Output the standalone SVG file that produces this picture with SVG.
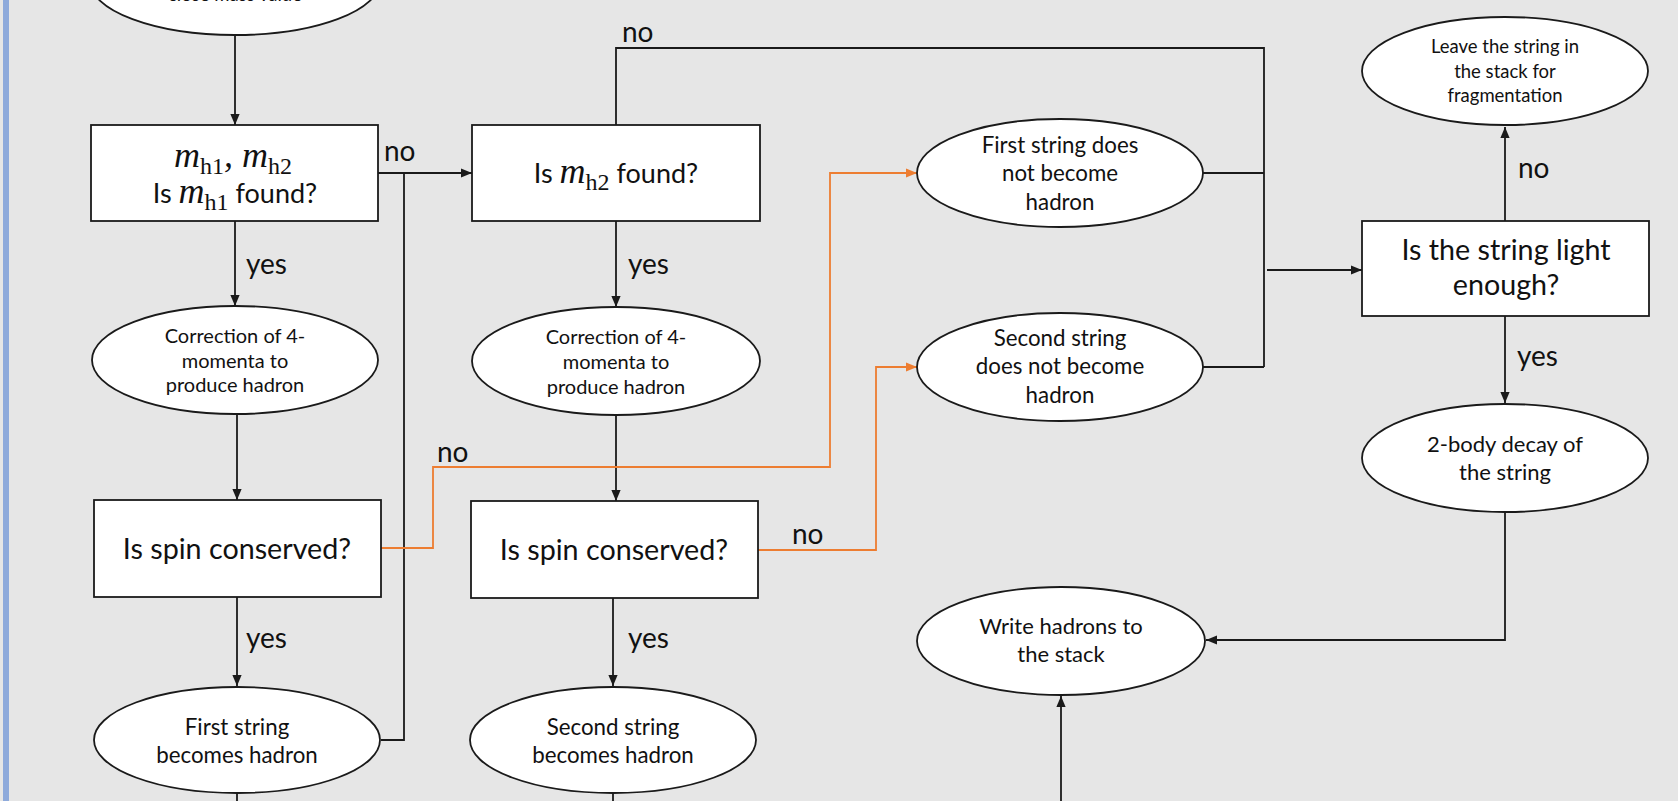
<svg xmlns="http://www.w3.org/2000/svg" width="1678" height="801" viewBox="0 0 1678 801">
<defs>
<style>
.bg{fill:#e6e6e6}
.node{fill:#ffffff;stroke:#1a1a1a;stroke-width:1.8}
.ln{fill:none;stroke:#1a1a1a;stroke-width:1.8}
.or{fill:none;stroke:#ed7d31;stroke-width:1.8}
text{font-family:Lato,"Open Sans","Liberation Sans",sans-serif;fill:#111;text-anchor:middle}
.t16{font-size:18.5px}
.t18{font-size:20px}
.t20{font-size:22px}
.t21{font-size:22.3px}
.t24{font-size:27px}
.t27{font-size:28.7px}
.lbl{font-size:28px;text-anchor:start}
.mi{font-family:"Liberation Serif","DejaVu Serif",serif;font-style:italic;font-size:36px}
.ms{font-family:"Liberation Serif","DejaVu Serif",serif;font-size:24px}
</style>
<marker id="ab" viewBox="0 0 10 10" refX="10" refY="5" markerWidth="11" markerHeight="11" markerUnits="userSpaceOnUse" orient="auto"><path d="M0,0.8 L10,5 L0,9.2 z" fill="#1a1a1a"/></marker>
<marker id="ao" viewBox="0 0 10 10" refX="10" refY="5" markerWidth="11" markerHeight="11" markerUnits="userSpaceOnUse" orient="auto"><path d="M0,0.8 L10,5 L0,9.2 z" fill="#ed7d31"/></marker>
</defs>
<rect class="bg" x="0" y="0" width="1678" height="801"/>
<rect x="3" y="0" width="6" height="801" fill="#8eaadb"/>

<g id="connectors">
<path class="ln" d="M235,36 V125" marker-end="url(#ab)"/>
<path class="ln" d="M378,173 H472" marker-end="url(#ab)"/>
<path class="ln" d="M381,740 H404 V173"/>
<path class="ln" d="M235,221 V306" marker-end="url(#ab)"/>
<path class="ln" d="M237,414 V500" marker-end="url(#ab)"/>
<path class="ln" d="M237,597 V686" marker-end="url(#ab)"/>
<path class="ln" d="M237,793 V801"/>
<path class="ln" d="M616,125 V48 H1264 V367"/>
<path class="ln" d="M616,221 V307" marker-end="url(#ab)"/>
<path class="ln" d="M616,415 V501" marker-end="url(#ab)"/>
<path class="ln" d="M613,598 V686" marker-end="url(#ab)"/>
<path class="ln" d="M613,793 V801"/>
<path class="or" d="M381,548 H433 V467 H830 V173 H917" marker-end="url(#ao)"/>
<path class="or" d="M758,550 H876 V367 H917" marker-end="url(#ao)"/>
<path class="ln" d="M1203,173 H1264"/>
<path class="ln" d="M1203,367 H1264"/>
<path class="ln" d="M1267,270 H1362" marker-end="url(#ab)"/>
<path class="ln" d="M1505,221 V127" marker-end="url(#ab)"/>
<path class="ln" d="M1505,316 V403" marker-end="url(#ab)"/>
<path class="ln" d="M1505,512 V640 H1206" marker-end="url(#ab)"/>
<path class="ln" d="M1061,801 V696" marker-end="url(#ab)"/>
<text class="lbl" x="384" y="161">no</text>
<text class="lbl" x="622" y="42">no</text>
<text class="lbl" x="246" y="274">yes</text>
<text class="lbl" x="628" y="274">yes</text>
<text class="lbl" x="437" y="462">no</text>
<text class="lbl" x="792" y="544">no</text>
<text class="lbl" x="246" y="648">yes</text>
<text class="lbl" x="628" y="648">yes</text>
<text class="lbl" x="1518" y="178">no</text>
<text class="lbl" x="1517" y="366">yes</text>
</g>

<g id="n-top">
<ellipse class="node" cx="235" cy="-19" rx="145" ry="54"/>
<text class="t16" x="235" y="1">close mass value</text>
</g>
<g id="n-mh1">
<rect class="node" x="91" y="125" width="287" height="96"/>
<text x="233" y="167"><tspan class="mi">m</tspan><tspan class="ms" dy="7">h1</tspan><tspan class="mi" dy="-7">, m</tspan><tspan class="ms" dy="7">h2</tspan></text>
<text x="235" y="203"><tspan class="t24">Is </tspan><tspan class="mi">m</tspan><tspan class="ms" dy="7">h1</tspan><tspan class="t24" dy="-7"> found?</tspan></text>
</g>
<g id="n-mh2">
<rect class="node" x="472" y="125" width="288" height="96"/>
<text x="616" y="183"><tspan class="t24">Is </tspan><tspan class="mi">m</tspan><tspan class="ms" dy="7">h2</tspan><tspan class="t24" dy="-7"> found?</tspan></text>
</g>
<g id="n-corr1">
<ellipse class="node" cx="235" cy="360" rx="143" ry="54"/>
<text class="t18" x="235" y="343">Correction of 4-</text>
<text class="t18" x="235" y="368">momenta to</text>
<text class="t18" x="235" y="392">produce hadron</text>
</g>
<g id="n-corr2">
<ellipse class="node" cx="616" cy="361" rx="144" ry="54"/>
<text class="t18" x="616" y="344">Correction of 4-</text>
<text class="t18" x="616" y="369">momenta to</text>
<text class="t18" x="616" y="394">produce hadron</text>
</g>
<g id="n-spin1">
<rect class="node" x="94" y="500" width="287" height="97"/>
<text class="t27" x="237" y="559">Is spin conserved?</text>
</g>
<g id="n-spin2">
<rect class="node" x="471" y="501" width="287" height="97"/>
<text class="t27" x="614" y="560">Is spin conserved?</text>
</g>
<g id="n-first">
<ellipse class="node" cx="237" cy="740" rx="143" ry="53"/>
<text class="t21" x="237" y="735">First string</text>
<text class="t21" x="237" y="763">becomes hadron</text>
</g>
<g id="n-second">
<ellipse class="node" cx="613" cy="740" rx="143" ry="53"/>
<text class="t21" x="613" y="735">Second string</text>
<text class="t21" x="613" y="763">becomes hadron</text>
</g>
<g id="n-firstnot">
<ellipse class="node" cx="1060" cy="173" rx="143" ry="54"/>
<text class="t21" x="1060" y="153">First string does</text>
<text class="t21" x="1060" y="181">not become</text>
<text class="t21" x="1060" y="210">hadron</text>
</g>
<g id="n-secondnot">
<ellipse class="node" cx="1060" cy="367" rx="143" ry="54"/>
<text class="t21" x="1060" y="346">Second string</text>
<text class="t21" x="1060" y="374">does not become</text>
<text class="t21" x="1060" y="403">hadron</text>
</g>
<g id="n-leave">
<ellipse class="node" cx="1505" cy="71" rx="143" ry="54"/>
<text class="t16" x="1505" y="53">Leave the string in</text>
<text class="t16" x="1505" y="78">the stack for</text>
<text class="t16" x="1505" y="102">fragmentation</text>
</g>
<g id="n-light">
<rect class="node" x="1362" y="221" width="287" height="95"/>
<text class="t27" x="1506" y="260">Is the string light</text>
<text class="t27" x="1506" y="295">enough?</text>
</g>
<g id="n-decay">
<ellipse class="node" cx="1505" cy="458" rx="143" ry="54"/>
<text class="t20" x="1505" y="452">2-body decay of</text>
<text class="t20" x="1505" y="480">the string</text>
</g>
<g id="n-write">
<ellipse class="node" cx="1061" cy="641" rx="144" ry="54"/>
<text class="t20" x="1061" y="634">Write hadrons to</text>
<text class="t20" x="1061" y="662">the stack</text>
</g>
</svg>
